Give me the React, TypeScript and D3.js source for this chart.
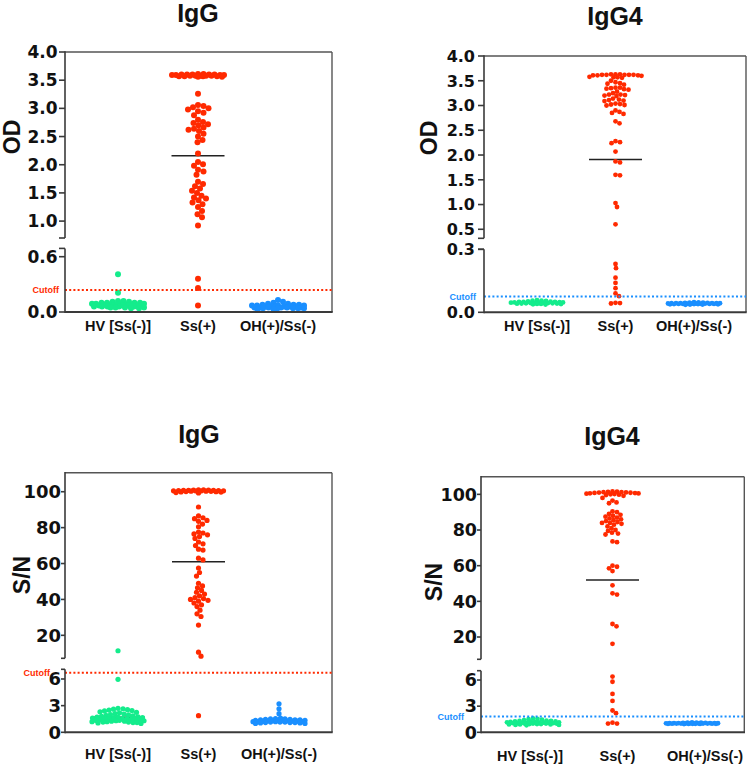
import React from "react";
import * as d3 from "d3";

const CATEGORIES = ["HV [Ss(-)]", "Ss(+)", "OH(+)/Ss(-)"];
const GROUP_COLORS = ["#14EC8C", "#FF2A00", "#1A8FFF"];

// ---------- Panel A: IgG, OD ----------
const iggOdHV = [0.41, 0.21, 0.12, 0.12, 0.11, 0.11, 0.10, 0.10, 0.10, 0.10, 0.09, 0.09, 0.09, 0.09, 0.08, 0.08, 0.08, 0.08, 0.08, 0.07, 0.07, 0.07, 0.07, 0.07, 0.07, 0.06, 0.06, 0.06, 0.06, 0.06, 0.05, 0.05, 0.05, 0.05, 0.04, 0.04];
const iggOdSs = [3.57, 3.58, 3.59, 3.60, 3.58, 3.57, 3.59, 3.61, 3.60, 3.58, 3.56, 3.59, 3.60, 3.58, 3.57, 3.61, 3.59, 3.60, 3.58, 3.57, 3.56, 3.60,
  3.26, 3.06, 3.04, 3.02, 3.00, 2.98, 2.95, 2.92, 2.88, 2.80, 2.76, 2.74, 2.72, 2.70, 2.66, 2.64, 2.62, 2.60, 2.55, 2.50, 2.44, 2.40,
  2.20, 2.05, 2.01, 1.98, 1.91, 1.88, 1.82, 1.70, 1.66, 1.62, 1.58, 1.54, 1.50, 1.45, 1.42, 1.40, 1.37, 1.33, 1.30, 1.25, 1.18, 1.12, 1.07, 0.92,
  0.36, 0.26, 0.07];
const iggOdOH = [0.13, 0.11, 0.10, 0.09, 0.09, 0.08, 0.08, 0.08, 0.07, 0.07, 0.07, 0.07, 0.06, 0.06, 0.06, 0.06, 0.06, 0.06, 0.05, 0.05, 0.05, 0.05, 0.05, 0.05, 0.04, 0.04, 0.04, 0.04, 0.04, 0.03, 0.03];
const iggOdMeans = [0.08, 2.16, 0.06];
const iggOdCutoff = 0.24;
const iggOdUpperTicks = [1.0, 1.5, 2.0, 2.5, 3.0, 3.5, 4.0];
const iggOdLowerTicks = [0.0, 0.6];

// ---------- Panel B: IgG4, OD ----------
const igg4OdHV = [0.058, 0.056, 0.055, 0.054, 0.052, 0.051, 0.050, 0.050, 0.049, 0.048, 0.047, 0.047, 0.046, 0.046, 0.045, 0.045, 0.044, 0.044, 0.043, 0.043, 0.042, 0.042, 0.041, 0.040, 0.040, 0.039, 0.038, 0.037];
const igg4OdSs = [3.63, 3.62, 3.62, 3.61, 3.62, 3.63, 3.61, 3.62, 3.60, 3.62, 3.61, 3.63,
  3.58, 3.57, 3.56, 3.57, 3.50, 3.47, 3.45, 3.44, 3.42,
  3.36, 3.35, 3.34, 3.33, 3.36, 3.32, 3.28, 3.25, 3.22, 3.21, 3.20, 3.19, 3.22,
  3.14, 3.12, 3.10, 3.09, 3.11, 3.04, 3.02, 3.01, 3.00, 3.03,
  2.90, 2.87, 2.85, 2.83, 2.68, 2.64, 2.28, 2.26, 2.24, 2.07, 1.87, 1.85, 1.60, 1.59, 1.03, 0.95, 0.60,
  0.23, 0.21, 0.165, 0.14, 0.115, 0.09, 0.077, 0.045, 0.042, 0.044];
const igg4OdOH = [0.048, 0.047, 0.046, 0.046, 0.045, 0.045, 0.044, 0.044, 0.044, 0.043, 0.043, 0.043, 0.042, 0.042, 0.042, 0.041, 0.041, 0.041, 0.040, 0.040, 0.040, 0.040, 0.039, 0.039, 0.039, 0.038, 0.038, 0.037, 0.037, 0.036];
const igg4OdMeans = [0.045, 1.91, 0.042];
const igg4OdCutoff = 0.075;
const igg4OdUpperTicks = [0.5, 1.0, 1.5, 2.0, 2.5, 3.0, 3.5, 4.0];
const igg4OdLowerTicks = [0.0, 0.3];

// ---------- Panel C: IgG, S/N ----------
const iggSnHV = [11.4, 5.96, 2.7, 2.65, 2.6, 2.55, 2.5, 2.45, 2.4, 2.3, 2.25, 2.2, 2.1, 2.05, 2.0, 1.95, 1.9, 1.85, 1.8, 1.75, 1.7, 1.7, 1.65, 1.6, 1.6, 1.55, 1.55, 1.5, 1.5, 1.45, 1.45, 1.4, 1.4, 1.35, 1.35, 1.3, 1.3, 1.25, 1.25, 1.2, 1.2, 1.15, 1.15, 1.1, 1.1, 1.05, 1.0];
const iggSnSs = [101.0, 100.8, 100.5, 100.9, 100.3, 100.6, 100.2, 101.1, 100.7, 100.4, 100.0, 99.8, 100.6, 100.9, 100.3, 99.5, 100.1, 100.8, 100.4, 99.9, 100.5, 99.3,
  91.5, 86.5, 85.5, 85, 84, 83.5, 82, 80.5, 77.5, 77, 76.5, 76, 75, 74, 72, 71, 70, 68, 67.5, 63, 62, 57.5, 55, 53,
  49, 47.5, 46.5, 45, 44, 43, 42, 41, 40.5, 40, 39.5, 39, 38, 37, 36, 34, 32, 30.5, 25.7, 10.6, 8.4, 1.87];
const iggSnOH = [3.2, 2.65, 2.1, 1.6, 1.55, 1.5, 1.5, 1.45, 1.45, 1.4, 1.4, 1.4, 1.35, 1.35, 1.35, 1.3, 1.3, 1.3, 1.3, 1.25, 1.25, 1.25, 1.2, 1.2, 1.2, 1.2, 1.15, 1.15, 1.15, 1.1, 1.1, 1.1, 1.05, 1.05, 1.0, 1.0];
const iggSnMeans = [1.7, 61, 1.3];
const iggSnCutoff = 6.7;
const snUpperTicks = [20, 40, 60, 80, 100];
const snLowerTicks = [0, 3, 6];

// ---------- Panel D: IgG4, S/N ----------
const igg4SnHV = [1.6, 1.55, 1.5, 1.45, 1.4, 1.35, 1.3, 1.3, 1.25, 1.25, 1.2, 1.2, 1.2, 1.15, 1.15, 1.15, 1.1, 1.1, 1.1, 1.1, 1.05, 1.05, 1.05, 1.0, 1.0, 1.0, 1.0, 0.95, 0.95, 0.95, 0.9, 0.9, 0.9, 0.85, 0.85, 0.8];
const igg4SnSs = [101.5, 101.2, 101.0, 100.8, 101.3, 100.5, 100.2, 101.4, 100.9, 100.0, 99.6, 99.2, 100.7, 101.1, 100.4, 99.8, 101.6, 100.6,
  98, 96.5, 95.5, 95, 90.5, 90, 89, 88.5, 88, 87.5, 87, 86.5, 86, 85.5, 85, 84.5, 84, 84, 83.5, 83, 82, 81, 80, 79.5, 78.5, 78, 77.5,
  73.6, 73.2, 60, 59.4, 58.5, 57, 49, 44.5, 43.8, 27.3, 26, 16.2,
  6.4, 5.8, 4.4, 3.6, 2.5, 2.2, 1.1, 1.0, 1.0];
const igg4SnOH = [1.15, 1.12, 1.1, 1.1, 1.08, 1.08, 1.06, 1.06, 1.05, 1.05, 1.04, 1.04, 1.03, 1.03, 1.02, 1.02, 1.01, 1.01, 1.0, 1.0, 1.0, 0.99, 0.99, 0.98, 0.98, 0.97, 0.97, 0.96, 0.96, 0.95];
const igg4SnMeans = [1.1, 52, 1.02];
const igg4SnCutoff = 1.8;

const SANS = "'Liberation Sans', Arial, Helvetica, sans-serif";
const TICKFONT = "'DejaVu Sans', Verdana, sans-serif";

function swarm(ys: number[], r: number, maxHalf: number): number[] {
  const sep = 2 * r * 0.88;
  const idx = ys.map((_, i) => i).sort((a, b) => ys[a] - ys[b]);
  const placed: { x: number; y: number }[] = [];
  const out = new Array(ys.length).fill(0);
  const step = 0.5;
  const nCand = Math.floor(maxHalf / step) * 2 + 1;
  for (const i of idx) {
    const yi = ys[i];
    let best = 0;
    let bestD = -1;
    for (let k = 0; k < nCand; k++) {
      const off = (k % 2 === 1 ? 1 : -1) * Math.ceil(k / 2) * step;
      let minD = Infinity;
      for (const p of placed) {
        const dy = p.y - yi;
        if (Math.abs(dy) >= sep) continue;
        const d = Math.hypot(p.x - off, dy);
        if (d < minD) minD = d;
      }
      if (minD >= sep) { best = off; bestD = minD; break; }
      if (minD > bestD) { bestD = minD; best = off; }
    }
    placed.push({ x: best, y: yi });
    out[i] = best;
  }
  return out;
}

type Cfg = {
  title: string; yLabel: string;
  frame: { l: number; r: number; t: number; b: number };
  upperDomain: [number, number]; upperRange: [number, number];
  lowerDomain: [number, number]; lowerRange: [number, number];
  upperTicks: number[]; lowerTicks: number[]; fmt: (v: number) => string;
  groups: number[][]; means: number[]; cutoff: number; cutoffColor: string;
  radius: number; halfWidth: number;
  catRange: [number, number]; labelRange: [number, number]; catLabelY: number;
  titleX: number; titleY: number; yLabelX: number; yLabelY: number;
  tickLen: number; tickGap: number; tickFontSize: number;
  cutoffLabelEnd: number;
};

function Panel({ c }: { c: Cfg }) {
  const up = d3.scaleLinear().domain(c.upperDomain).range(c.upperRange);
  const lo = d3.scaleLinear().domain(c.lowerDomain).range(c.lowerRange);
  const y = (v: number) => (v >= c.upperDomain[0] ? up(v) : lo(v));
  const x = d3.scalePoint<string>().domain(CATEGORIES).range(c.catRange);
  const xl = d3.scalePoint<string>().domain(CATEGORIES).range(c.labelRange);
  const { l, r, t, b } = c.frame;
  const axisColor = "#3a3a3a";
  const tickX2 = l - c.tickLen;
  const cy = lo(c.cutoff);
  return (
    <g>
      <text x={c.titleX} y={c.titleY} textAnchor="middle" fontFamily={SANS} fontWeight="bold" fontSize={25} fill="#111">{c.title}</text>
      <text transform={`translate(${c.yLabelX},${c.yLabelY}) rotate(-90)`} textAnchor="middle" fontFamily={SANS} fontWeight="bold" fontSize={23} fill="#111">{c.yLabel}</text>
      <line x1={l} x2={r} y1={t} y2={t} stroke="#555" strokeWidth={1.4} />
      <line x1={r} x2={r} y1={t} y2={b} stroke="#555" strokeWidth={1.4} />
      {c.means.map((m, i) => (
        <line key={"m" + i} x1={(x(CATEGORIES[i]) as number) - 26.5} x2={(x(CATEGORIES[i]) as number) + 26.5} y1={y(m)} y2={y(m)} stroke="#222" strokeWidth={1.5} />
      ))}
      {c.groups.map((vals, gi) => {
        const ys = vals.map(y);
        const offs = swarm(ys, c.radius, c.halfWidth);
        const cx = x(CATEGORIES[gi]) as number;
        return vals.map((v, i) => (
          <circle key={gi + "-" + i} cx={cx + offs[i]} cy={ys[i]} r={c.radius} fill={GROUP_COLORS[gi]} />
        ));
      })}
      <line x1={l} x2={r} y1={cy} y2={cy} stroke={c.cutoffColor} strokeWidth={2} strokeDasharray="2 2.2" />
      <text x={c.cutoffLabelEnd} y={cy} dy="0.35em" textAnchor="end" fontFamily={SANS} fontWeight="bold" fontSize={9} fill={c.cutoffColor}>Cutoff</text>
      <line x1={l} x2={r + 0.7} y1={b} y2={b} stroke={axisColor} strokeWidth={2} />
      <line x1={l} x2={l} y1={c.upperRange[0]} y2={t - 0.7} stroke={axisColor} strokeWidth={1.6} />
      <line x1={l} x2={l} y1={b + 1} y2={c.lowerRange[1]} stroke={axisColor} strokeWidth={1.6} />
      <line x1={tickX2} x2={l} y1={c.upperRange[0]} y2={c.upperRange[0]} stroke={axisColor} strokeWidth={1.6} />
      <line x1={tickX2} x2={l} y1={c.lowerRange[1]} y2={c.lowerRange[1]} stroke={axisColor} strokeWidth={1.6} />
      {c.upperTicks.map((v) => (
        <g key={"u" + v}>
          <line x1={tickX2} x2={l} y1={up(v)} y2={up(v)} stroke={axisColor} strokeWidth={1.6} />
          <text x={tickX2 - c.tickGap} y={up(v)} dy="0.36em" textAnchor="end" fontFamily={TICKFONT} fontWeight="bold" fontSize={c.tickFontSize} fill="#111">{c.fmt(v)}</text>
        </g>
      ))}
      {c.lowerTicks.map((v) => (
        <g key={"l" + v}>
          <line x1={tickX2} x2={l} y1={lo(v)} y2={lo(v)} stroke={axisColor} strokeWidth={1.6} />
          <text x={tickX2 - c.tickGap} y={lo(v)} dy="0.36em" textAnchor="end" fontFamily={TICKFONT} fontWeight="bold" fontSize={c.tickFontSize} fill="#111">{c.fmt(v)}</text>
        </g>
      ))}
      {CATEGORIES.map((cat) => (
        <text key={cat} x={xl(cat) as number} y={c.catLabelY} textAnchor="middle" fontFamily={SANS} fontWeight="bold" fontSize={14.5} fill="#111">{cat}</text>
      ))}
    </g>
  );
}

const f1 = d3.format(".1f");
const f0 = d3.format("d");

const panels: Cfg[] = [
  {
    title: "IgG", yLabel: "OD",
    frame: { l: 65, r: 332, t: 52, b: 312 },
    upperDomain: [0.7, 4.0], upperRange: [238, 52],
    lowerDomain: [0, 0.69], lowerRange: [312, 248.4],
    upperTicks: iggOdUpperTicks, lowerTicks: iggOdLowerTicks, fmt: f1,
    groups: [iggOdHV, iggOdSs, iggOdOH], means: iggOdMeans, cutoff: iggOdCutoff, cutoffColor: "#FF2A00",
    radius: 3, halfWidth: 26,
    catRange: [118, 278], labelRange: [118, 278], catLabelY: 331,
    titleX: 198, titleY: 22, yLabelX: 20, yLabelY: 137,
    tickLen: 6, tickGap: 1.5, tickFontSize: 17, cutoffLabelEnd: 59,
  },
  {
    title: "IgG4", yLabel: "OD",
    frame: { l: 484, r: 746, t: 56, b: 312.3 },
    upperDomain: [0.318, 4.0], upperRange: [238.3, 56],
    lowerDomain: [0, 0.3], lowerRange: [312.3, 249.3],
    upperTicks: igg4OdUpperTicks, lowerTicks: igg4OdLowerTicks, fmt: f1,
    groups: [igg4OdHV, igg4OdSs, igg4OdOH], means: igg4OdMeans, cutoff: igg4OdCutoff, cutoffColor: "#1A8FFF",
    radius: 2.4, halfWidth: 26,
    catRange: [537, 694], labelRange: [537, 694], catLabelY: 331,
    titleX: 615, titleY: 25, yLabelX: 437, yLabelY: 138,
    tickLen: 6, tickGap: 3, tickFontSize: 16, cutoffLabelEnd: 476,
  },
  {
    title: "IgG", yLabel: "S/N",
    frame: { l: 65, r: 332, t: 472.7, b: 732.3 },
    upperDomain: [7.2, 110.6], upperRange: [658.3, 472.7],
    lowerDomain: [0, 7.09], lowerRange: [732.3, 669.3],
    upperTicks: snUpperTicks, lowerTicks: snLowerTicks, fmt: f0,
    groups: [iggSnHV, iggSnSs, iggSnOH], means: iggSnMeans, cutoff: iggSnCutoff, cutoffColor: "#FF2A00",
    radius: 2.6, halfWidth: 26,
    catRange: [118, 279], labelRange: [118, 279], catLabelY: 759,
    titleX: 199, titleY: 443, yLabelX: 30, yLabelY: 575,
    tickLen: 4, tickGap: 0, tickFontSize: 18, cutoffLabelEnd: 50,
  },
  {
    title: "IgG4", yLabel: "S/N",
    frame: { l: 481, r: 744.3, t: 476.7, b: 732.3 },
    upperDomain: [7.5, 109.9], upperRange: [659.3, 476.7],
    lowerDomain: [0, 7.07], lowerRange: [732.3, 670.7],
    upperTicks: snUpperTicks, lowerTicks: snLowerTicks, fmt: f0,
    groups: [igg4SnHV, igg4SnSs, igg4SnOH], means: igg4SnMeans, cutoff: igg4SnCutoff, cutoffColor: "#1A8FFF",
    radius: 2.4, halfWidth: 26,
    catRange: [533, 692], labelRange: [530, 705], catLabelY: 761,
    titleX: 612, titleY: 445, yLabelX: 442, yLabelY: 582,
    tickLen: 4, tickGap: 0, tickFontSize: 17.5, cutoffLabelEnd: 464,
  },
];

export default function App() {
  return (
    <svg width={750} height={766} viewBox="0 0 750 766" style={{ position: "absolute", left: 0, top: 0, background: "#fff" }}>
      <rect x={0} y={0} width={750} height={766} fill="#fff" />
      {panels.map((c, i) => <Panel key={i} c={c} />)}
    </svg>
  );
}
